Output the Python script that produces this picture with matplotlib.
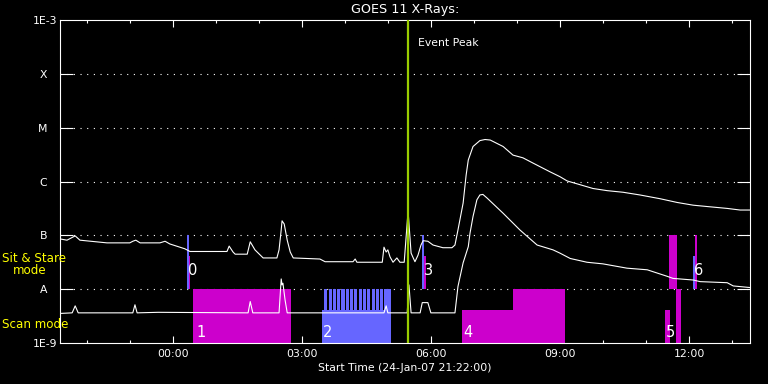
import matplotlib
matplotlib.use('Agg')
import matplotlib.pyplot as plt
import numpy as np
from matplotlib.ticker import FixedLocator, FixedFormatter, NullFormatter

plt.rcParams['font.family'] = ['DejaVu Sans']

# Time axis: hours relative to 00:00 on 25-Jan-07 (start 24-Jan-07 21:22:00)
t_start = -2.633
t_end = 13.41

# GOES 11 long channel (1-8 A), log10 flux
long_t = [-2.61, -2.47, -2.28, -2.17, -1.54, -1.01, -0.94, -0.87, -0.77, -0.31, -0.19, -0.08,
          0.27, 0.39, 1.25, 1.30, 1.39, 1.44, 1.72, 1.79, 1.90, 2.09, 2.41, 2.46, 2.51, 2.53,
          2.58, 2.65, 2.72, 2.79, 3.41, 3.53, 4.18, 4.23, 4.27, 4.86, 4.90, 4.95, 4.99, 5.04,
          5.11, 5.20, 5.27, 5.37, 5.46, 5.53, 5.58, 5.62, 5.69, 5.76, 5.81, 5.92, 6.04, 6.27,
          6.48, 6.55, 6.62, 6.74, 6.81, 6.86, 6.97, 7.13, 7.25, 7.37, 7.67, 7.90, 8.13, 8.37,
          8.76, 8.99, 9.16, 9.46, 9.76, 10.09, 10.46, 10.85, 11.32, 11.72, 12.09, 12.48, 12.88,
          13.18, 13.41]
long_logf = [-7.07, -7.09, -7.01, -7.09, -7.14, -7.14, -7.11, -7.09, -7.14, -7.14, -7.11, -7.16,
             -7.25, -7.30, -7.30, -7.20, -7.31, -7.35, -7.35, -7.12, -7.27, -7.42, -7.42, -7.27,
             -6.90, -6.73, -6.79, -7.09, -7.31, -7.42, -7.44, -7.49, -7.49, -7.44, -7.50, -7.50,
             -7.22, -7.31, -7.27, -7.40, -7.50, -7.42, -7.50, -7.50, -6.55, -7.33, -7.42, -7.49,
             -7.37, -7.18, -7.10, -7.11, -7.18, -7.23, -7.23, -7.18, -6.90, -6.40, -5.88, -5.60,
             -5.35, -5.24, -5.22, -5.23, -5.35, -5.51, -5.56, -5.66, -5.82, -5.91, -5.99, -6.06,
             -6.13, -6.17, -6.20, -6.25, -6.32, -6.39, -6.44, -6.47, -6.50, -6.53, -6.53]

# GOES 11 short channel (0.5-4 A), log10 flux
short_t = [-2.61, -2.35, -2.28, -2.21, -1.70, -0.94, -0.89, -0.84, -0.35, 1.74, 1.79, 1.85,
           2.46, 2.51, 2.53, 2.55, 2.60, 2.65, 4.90, 4.95, 4.99, 5.44, 5.48, 5.53, 5.74, 5.79,
           5.92, 5.99, 6.55, 6.62, 6.74, 6.86, 6.90, 6.97, 7.06, 7.13, 7.20, 7.30, 7.67, 8.06,
           8.46, 8.83, 8.99, 9.23, 9.62, 9.99, 10.55, 11.02, 11.48, 11.62, 12.09, 12.25, 12.88,
           13.02, 13.41]
short_logf = [-8.45, -8.44, -8.31, -8.44, -8.44, -8.44, -8.29, -8.44, -8.43, -8.44, -8.23, -8.44,
              -8.44, -7.81, -7.92, -7.89, -8.20, -8.44, -8.44, -8.31, -8.44, -8.44, -7.92, -8.44,
              -8.44, -8.25, -8.25, -8.44, -8.44, -7.95, -7.51, -7.21, -6.96, -6.65, -6.34, -6.25,
              -6.24, -6.31, -6.59, -6.90, -7.18, -7.27, -7.33, -7.43, -7.50, -7.53, -7.61, -7.64,
              -7.76, -7.80, -7.83, -7.86, -7.88, -7.94, -7.97]

event_peak_t = 5.46

# Observation blocks: start, end (hours), bottom, top (flux), colour
blk_t0 = [0.31, 0.36, 0.47, 3.46, 5.79, 5.84, 6.72, 7.89, 11.44, 11.69, 11.53, 12.09, 12.13]
blk_t1 = [0.36, 0.39, 2.74, 5.06, 5.84, 5.88, 7.89, 9.11, 11.55, 11.81, 11.72, 12.13, 12.18]
blk_bot = [1e-8, 1e-8, 1e-9, 1e-9, 1e-8, 1e-8, 1e-9, 1e-9, 1e-9, 1e-9, 1e-8, 1e-8, 1e-8]
blk_top = [1e-7, 4.1e-8, 1e-8, 4.1e-9, 1e-7, 4.1e-8, 4.1e-9, 1e-8, 4.1e-9, 1e-8, 1e-7, 4.1e-8, 1e-7]
blk_col = ['#6666ff', '#cc00cc', '#cc00cc', '#6666ff', '#6666ff', '#cc00cc', '#cc00cc',
           '#cc00cc', '#cc00cc', '#cc00cc', '#cc00cc', '#6666ff', '#cc00cc']

# Raster of short scan exposures in block 2
comb_t0 = [3.51, 3.61, 3.71, 3.81, 3.91, 4.01, 4.11, 4.21, 4.31, 4.41, 4.51, 4.61, 4.71, 4.81,
           4.91, 5.00]
comb_width = 0.074

# Block number labels
lab_text = ['0', '1', '2', '3', '4', '5', '6']
lab_t = [0.34, 0.53, 3.48, 5.83, 6.74, 11.46, 12.11]
lab_f = [2.2e-8, 1.55e-9, 1.55e-9, 2.2e-8, 1.55e-9, 1.55e-9, 2.2e-8]

class_vals = [1e-8, 1e-7, 1e-6, 1e-5, 1e-4]
class_labels = ['A', 'B', 'C', 'M', 'X']
edge_vals = [1e-9, 1e-3]
edge_labels = ['1E-9', '1E-3']

xmaj = [0, 3, 6, 9, 12]
xmaj_labels = ['00:00', '03:00', '06:00', '09:00', '12:00']
xmin = [-2, -1, 1, 2, 4, 5, 7, 8, 10, 11, 13]

W, H = 768, 384
fig = plt.figure(figsize=(7.68, 3.84), dpi=100, facecolor='black')
ax = fig.add_axes([60 / W, (H - 343) / H, 690 / W, 323 / H])
ax.set_facecolor('black')
ax.set_yscale('log')
ax.set_xlim(t_start, t_end)
ax.set_ylim(1e-9, 1e-3)

for s in ax.spines.values():
    s.set_color('white')
    s.set_linewidth(0.8)

# blocks
for a, b, lo, hi, c in zip(blk_t0, blk_t1, blk_bot, blk_top, blk_col):
    ax.bar(a, hi - lo, bottom=lo, width=b - a, align='edge', color=c, linewidth=0, zorder=1)
for a in comb_t0:
    ax.bar(a, 1e-8 - 1e-9, bottom=1e-9, width=comb_width, align='edge', color='#6666ff',
           linewidth=0, zorder=1, antialiased=False)

ax.plot(long_t, 10 ** np.array(long_logf), color='white', lw=0.8, zorder=2)
ax.plot(short_t, 10 ** np.array(short_logf), color='white', lw=0.8, zorder=2)

ax.axvline(event_peak_t, color='#99cc00', lw=1.6, zorder=3)
ax.annotate('Event Peak', xy=(event_peak_t, 1), xycoords=('data', 'axes fraction'),
            xytext=(10, -23), textcoords='offset pixels', color='white', fontsize=7.8,
            ha='left', va='center')

for s, x, y in zip(lab_text, lab_t, lab_f):
    ax.text(x, y, s, color='white', fontsize=10.5, ha='left', va='center', zorder=4)

# y ticks
ax.yaxis.set_major_locator(FixedLocator(class_vals))
ax.yaxis.set_major_formatter(FixedFormatter(class_labels))
ax.yaxis.set_minor_locator(FixedLocator(edge_vals))
ax.yaxis.set_minor_formatter(FixedFormatter(edge_labels))
ax.tick_params(axis='y', which='major', direction='in', left=True, right=True, length=9.4,
               width=0.8, color='white', labelcolor='white', labelsize=7.8, pad=9.4)
ax.tick_params(axis='y', which='minor', direction='in', left=True, right=False, length=0,
               labelcolor='white', labelsize=7.8, pad=2.2)
ax.set_axisbelow(True)
ax.grid(axis='y', which='major', color='white', linestyle=(0, (1, 5)), linewidth=0.8)

# x ticks
ax.xaxis.set_major_locator(FixedLocator(xmaj))
ax.xaxis.set_major_formatter(FixedFormatter(xmaj_labels))
ax.xaxis.set_minor_locator(FixedLocator(xmin))
ax.xaxis.set_minor_formatter(NullFormatter())
ax.tick_params(axis='x', which='major', direction='in', top=True, bottom=True, length=4.8,
               width=0.8, color='white', labelcolor='white', labelsize=7.8, pad=4)
ax.tick_params(axis='x', which='minor', direction='in', top=True, bottom=True, length=2.4,
               width=0.8, color='white')

ax.set_xlabel('Start Time (24-Jan-07 21:22:00)', color='white', fontsize=7.8, va='center')
ax.xaxis.set_label_coords(0.5, (343 - 368) / 323)
ax.set_title('GOES 11 X-Rays:', color='white', fontsize=9.2, y=1 + 10 / 323, va='center', pad=0)

fig.text(2 / W, 1 - 259 / H, 'Sit & Stare', color='#ffff00', fontsize=8.6, ha='left', va='center')
fig.text(13 / W, 1 - 271 / H, 'mode', color='#ffff00', fontsize=8.6, ha='left', va='center')
fig.text(2 / W, 1 - 324 / H, 'Scan mode', color='#ffff00', fontsize=8.6, ha='left', va='center')

fig.savefig('out.png', dpi=100, facecolor='black')
